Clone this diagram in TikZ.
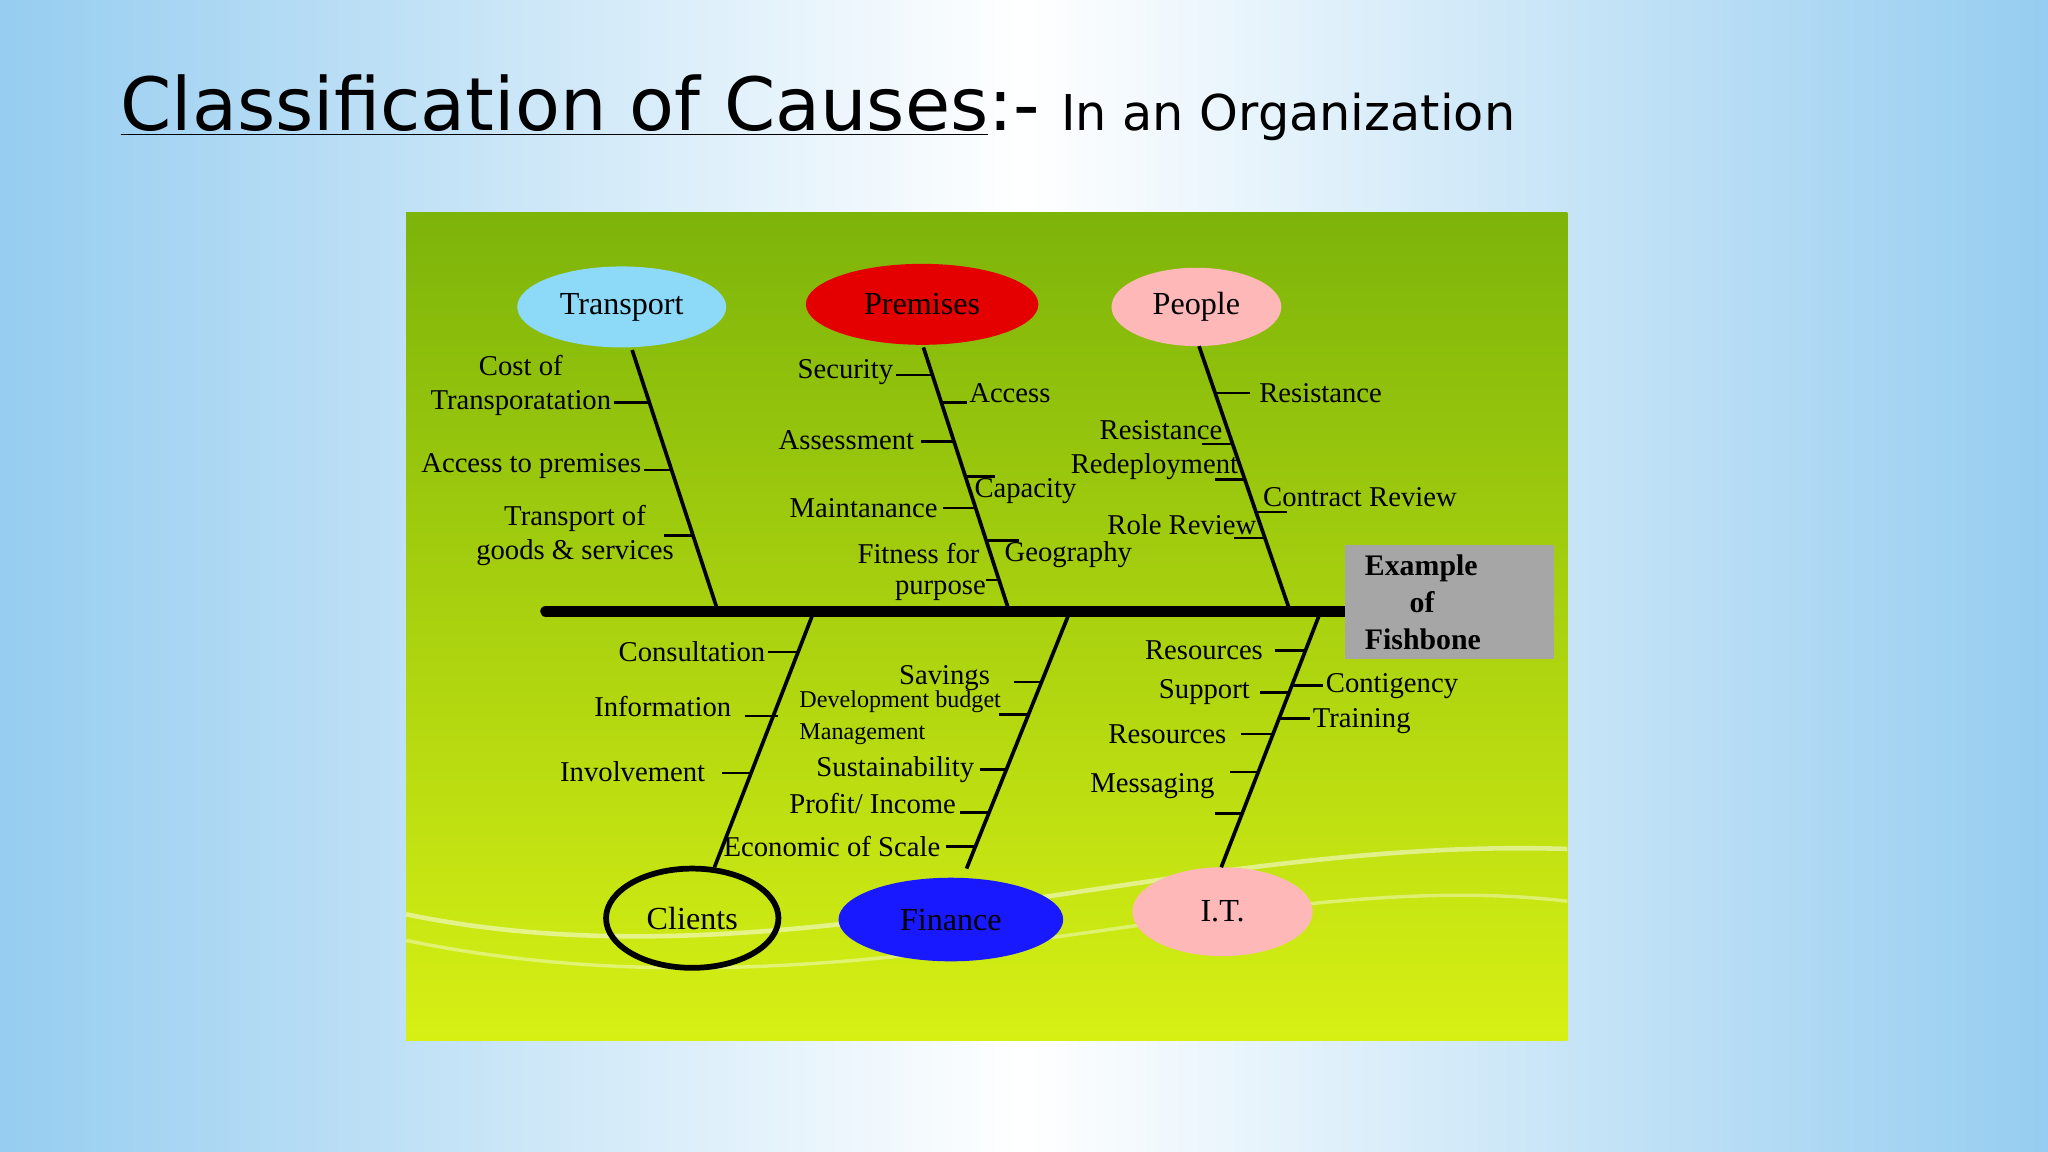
\documentclass[tikz,border=0pt]{standalone}
\usepackage{fontspec}
\setmainfont{Liberation Serif}
\newfontfamily\titlefont{DejaVu Sans}
\definecolor{bgblue}{RGB}{150,205,240}
\definecolor{gtop}{RGB}{125,180,10}
\definecolor{gbot}{RGB}{215,240,20}
\begin{document}
\begin{tikzpicture}[x=0.02cm,y=-0.02cm,
  lbl/.style={font=\fontsize{12.5}{15}\selectfont, inner sep=1pt, align=center},
  sml/.style={font=\fontsize{10.5}{12}\selectfont, inner sep=1pt},
  bone/.style={line width=1.6pt},
  tick/.style={line width=1.1pt},
  cat/.style={ellipse, minimum width=#1*0.02cm, font=\fontsize{14}{16}\selectfont}]
\usetikzlibrary{shapes.geometric}
\useasboundingbox (0,0) rectangle (1568,882);
\shade[left color=bgblue, right color=white] (0,0) rectangle (784,882);
\shade[left color=white, right color=bgblue] (784,0) rectangle (1568,882);
% title
\node[anchor=base west, inner sep=0, font=\titlefont\fontsize{32}{38}\selectfont] (t1) at (92,100) {\underline{Classification of Causes}:-};
\node[anchor=base west, inner sep=0, font=\titlefont\fontsize{21.5}{26}\selectfont] (t2) at (812,100) {In an Organization};
% panel
\shade[top color=gtop, bottom color=gbot] (311,163) rectangle (1200,797);
\draw[white, opacity=0.5, line width=2pt] (311,700) .. controls (600,760) and (900,640) .. (1200,650);
\draw[white, opacity=0.4, line width=1.5pt] (311,720) .. controls (650,790) and (950,660) .. (1200,690);
% spine and head
\draw[line width=5pt, line cap=round] (418,468) -- (1030,468);
\node[fill=gray!70, minimum width=160*0.02cm, minimum height=87*0.02cm, text width=2.6cm, align=left, font=\bfseries\fontsize{13}{16}\selectfont] (head) at (1110,461) {Example\\\ \ \ \ \,of\\Fishbone};
% categories
\node[cat=160, fill=cyan!45, minimum height=62*0.02cm] (tr) at (476,235) {Transport};
\node[cat=178, fill=red!90!black, minimum height=62*0.02cm] (pr) at (706,233) {Premises};
\node[cat=130, fill=pink!80!red!70, minimum height=60*0.02cm] (pe) at (916,235) {People};
\node[cat=132, draw, line width=2.5pt, minimum height=76*0.02cm] (cl) at (530,703) {Clients};
\node[cat=172, fill=blue!90, minimum height=64*0.02cm] (fi) at (728,704) {Finance};
\node[cat=138, fill=pink!80!red!70, minimum height=68*0.02cm] (it) at (936,698) {I.T.};
\coordinate (trE) at (549,466); \coordinate (prE) at (772,466); \coordinate (peE) at (987,466);
\coordinate (clS) at (622,471); \coordinate (fiS) at (818,471); \coordinate (itS) at (1010,471);
\draw[bone] (484,268) -- (trE);
\draw[bone] (707,266) -- (prE);
\draw[bone] (918,265) -- (peE);
\draw[bone] (clS) -- (547,664);
\draw[bone] (fiS) -- (740,665);
\draw[bone] (itS) -- (935,664);
% Transport
\node[lbl, anchor=east] (a1) at (470,295) {Cost of\\Transporatation};
\draw[tick] (470,308) -- (497,308);
\node[lbl, anchor=east] (a2) at (493,357) {Access to premises};
\draw[tick] (493,360) -- (514,360);
\node[lbl, anchor=east] (a3) at (518,410) {Transport of\\goods \& services};
\draw[tick] (508,410) -- (531,410);
% Premises
\node[lbl, anchor=east] (b1) at (686,285) {Security};
\draw[tick] (686,287) -- (714,287);
\node[lbl, anchor=west] (b2) at (740,301) {Access};
\draw[tick] (721,308) -- (740,308);
\node[lbl, anchor=east] (b3) at (702,337) {Assessment};
\draw[tick] (705,338) -- (730,338);
\node[lbl, anchor=west] (b4) at (744,376) {Capacity};
\draw[tick] (740,365) -- (762,365);
\node[lbl, anchor=east] (b5) at (720,389) {Maintanance};
\draw[tick] (722,389) -- (747,389);
\node[lbl, anchor=east] (b6) at (752,424) {Fitness for};
\node[lbl] (b7) at (720,452) {purpose};
\draw[tick] (755,444) -- (765,444);
\node[lbl, anchor=west] (b8) at (767,425) {Geography};
\draw[tick] (755,414) -- (780,414);
% People
\node[lbl, anchor=west] (c1) at (962,301) {Resistance};
\draw[tick] (930,301) -- (957,301);
\node[lbl, anchor=east] (c2) at (938,329) {Resistance};
\draw[tick] (920,340) -- (944,340);
\node[lbl, anchor=east] (c3) at (950,357) {Redeployment};
\draw[tick] (930,367) -- (953,367);
\node[lbl, anchor=west] (c4) at (965,381) {Contract Review};
\draw[tick] (962,392) -- (985,392);
\node[lbl, anchor=east] (c5) at (964,402) {Role Review};
\draw[tick] (945,412) -- (968,412);
% Clients
\node[lbl, anchor=east] (d1) at (588,499) {Consultation};
\draw[tick] (588,499) -- (612,499);
\node[lbl, anchor=east] (d2) at (562,541) {Information};
\draw[tick] (570,548) -- (596,548);
\node[lbl, anchor=east] (d3) at (542,591) {Involvement};
\draw[tick] (553,592) -- (576,592);
% Finance
\node[lbl, anchor=east] (e1) at (760,519) {Savings};
\draw[tick] (776,522) -- (798,522);
\node[sml, anchor=west] (e2) at (610,537) {Development budget};
\draw[tick] (765,547) -- (788,547);
\node[sml, anchor=west] (e3) at (610,562) {Management};
\node[lbl, anchor=east] (e4) at (748,589) {Sustainability};
\draw[tick] (750,589) -- (771,589);
\node[lbl, anchor=east] (e5) at (734,615) {Profit/ Income};
\draw[tick] (735,622) -- (758,622);
\node[lbl, anchor=east] (e6) at (722,648) {Economic of Scale};
\draw[tick] (724,648) -- (747,648);
% IT
\node[lbl, anchor=east] (f1) at (969,498) {Resources};
\draw[tick] (976,498) -- (1000,498);
\node[lbl, anchor=east] (f2) at (959,530) {Support};
\draw[tick] (965,530) -- (988,530);
\node[lbl, anchor=east] (f3) at (941,562) {Resources};
\draw[tick] (950,562) -- (975,562);
\node[lbl, anchor=east] (f4) at (932,602) {Messaging};
\draw[tick] (942,591) -- (964,591);
\draw[tick] (930,623) -- (951,623);
\node[lbl, anchor=west] (f5) at (1013,525) {Contigency};
\draw[tick] (990,525) -- (1013,525);
\node[lbl, anchor=west] (f6) at (1003,552) {Training};
\draw[tick] (980,550) -- (1003,550);
\end{tikzpicture}
\end{document}
